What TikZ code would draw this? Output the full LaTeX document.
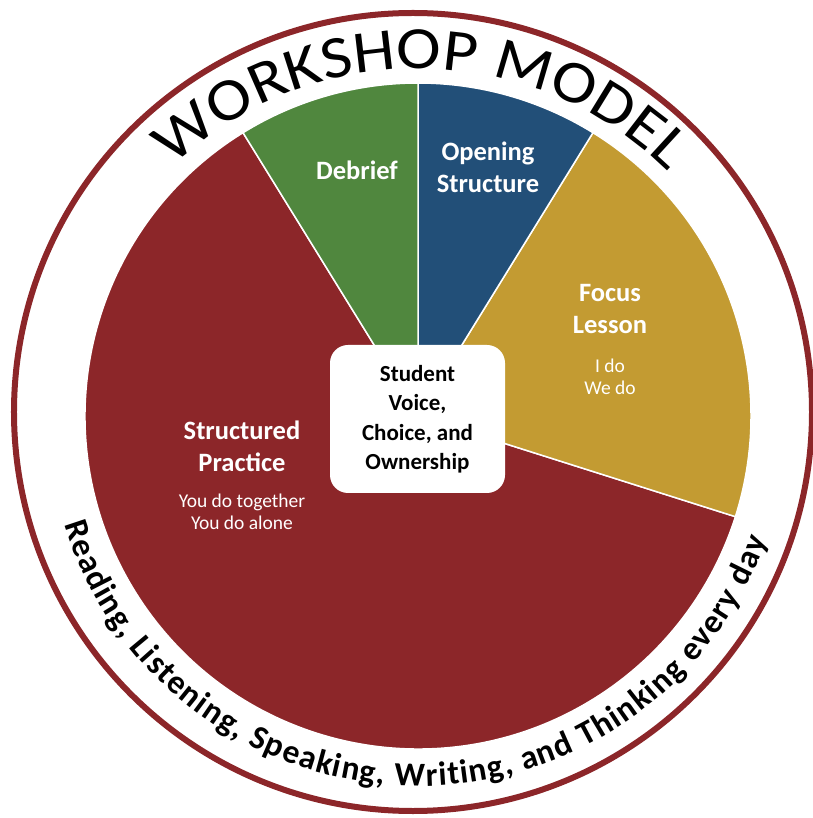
\documentclass[tikz,border=0pt]{standalone}
\usepackage{fontspec}
\setmainfont{Carlito}
\newfontfamily\wsarchfont[FakeStretch=1.12]{Carlito}
\usetikzlibrary{decorations.text}
\definecolor{wsred}{HTML}{8C2629}
\definecolor{wsgreen}{HTML}{50873E}
\definecolor{wsblue}{HTML}{224F78}
\definecolor{wsgold}{HTML}{C39B32}
\begin{document}
\begin{tikzpicture}[x=1pt, y=1pt]
        \tikzstyle{sector}=[draw=white, line width=1.5pt]
        \tikzstyle{seglabel}=[text=white, font=\bfseries\fontsize{26.5}{32}\selectfont, align=center]
        \tikzstyle{subtext}=[text=white, font=\fontsize{19.5}{21.5}\selectfont, align=center]
        \tikzstyle{hubbox}=[fill=white, rounded corners=18pt, minimum width=175pt, minimum height=148pt, align=center, font=\bfseries\fontsize{23}{29.5}\selectfont]

        \useasboundingbox (-418,-402) rectangle (394,416);

        % outer ring
        \draw[wsred, line width=6pt] (-5,4) circle[radius=399];

        % pie
        \draw[sector, fill=wsred] (0,0) -- (121.7:333) arc[start angle=121.7, end angle=342.4, radius=333] -- cycle;
        \draw[sector, fill=wsgold] (0,0) -- (-17.6:333) arc[start angle=-17.6, end angle=58.3, radius=333] -- cycle;
        \draw[sector, fill=wsblue] (0,0) -- (58.3:333) arc[start angle=58.3, end angle=90, radius=333] -- cycle;
        \draw[sector, fill=wsgreen] (0,0) -- (90:333) arc[start angle=90, end angle=121.7, radius=333] -- cycle;

        \node[hubbox] (hub) at (-0.5,-3) {Student\\Voice,\\Choice, and\\Ownership};

        \node[seglabel] (debrief) at (-61,246) {Debrief};
        \node[seglabel] (opening) at (70,249) {Opening\\Structure};
        \node[seglabel] (focus) at (192,107) {Focus\\Lesson};
        \node[subtext] (focussub) at (192,39) {I do\\We do};
        \node[seglabel] (practice) at (-176,-30) {Structured\\Practice};
        \node[subtext] (practicesub) at (-176,-96) {You do together\\You do alone};

        % arched texts
        \path[decorate, decoration={text along path, text align={fit to path},
            text={|\wsarchfont\fontsize{60}{60}\selectfont|WORKSHOP MODEL}}]
            (-244.5,250) arc[start angle=134, end angle=46, x radius=352, y radius=346];
        \path[decorate, decoration={text along path, text align={fit to path},
            text={|\bfseries\fontsize{33.5}{33.5}\selectfont|Reading, Listening, Speaking, Writing, and Thinking every day}}]
            (197:370) arc[start angle=197, end angle=340.5, radius=370];
\end{tikzpicture}
\end{document}
